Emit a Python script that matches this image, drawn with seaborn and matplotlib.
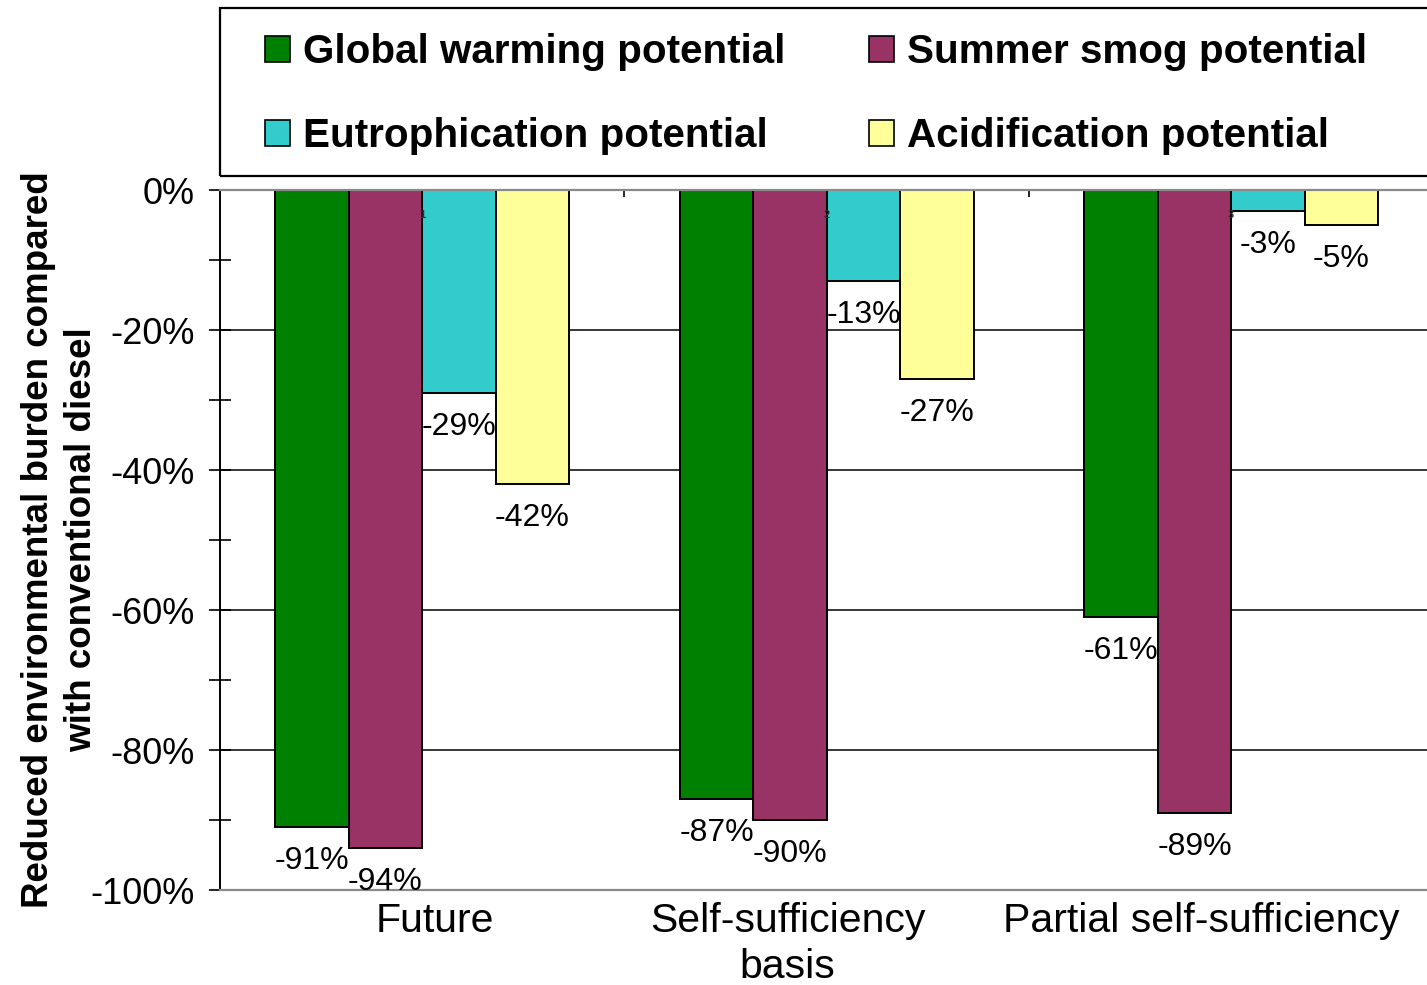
import matplotlib
matplotlib.use("Agg")
import matplotlib.pyplot as plt
import matplotlib.transforms as mtransforms
from matplotlib.patches import Rectangle, Patch
from matplotlib.ticker import FixedLocator, FuncFormatter
import numpy as np
import pandas as pd
import seaborn as sns

# ---- data -------------------------------------------------------------
scenarios = ["Future", "Self-sufficiency\nbasis", "Partial self-sufficiency"]
scenario_ids = ["1", "2", "3"]
impacts = ["Global warming potential", "Summer smog potential",
           "Eutrophication potential", "Acidification potential"]
global_warming = [-91, -87, -61]
summer_smog = [-94, -90, -89]
eutrophication = [-29, -13, -3]
acidification = [-42, -27, -5]
colors = ["#008000", "#993366", "#33CCCC", "#FFFF99"]

series = [global_warming, summer_smog, eutrophication, acidification]
df = pd.DataFrame({
    "scenario": np.repeat([scenarios], len(impacts), axis=0).ravel(),
    "impact": np.repeat(impacts, len(scenarios)),
    "value": np.concatenate(series),
})

# ---- style ------------------------------------------------------------
sns.set_style("white")
plt.rcParams["font.family"] = ["Liberation Sans", "DejaVu Sans"]
plt.rcParams["text.color"] = "black"

W, H, DPI = 1427, 985, 100
fig = plt.figure(figsize=(W / DPI, H / DPI), dpi=DPI)

def px_box(x0, y0, x1, y1):
    """figure-fraction box from top-left pixel coordinates"""
    return [x0 / W, 1 - y1 / H, (x1 - x0) / W, (y1 - y0) / H]

ax = fig.add_axes(px_box(220, 190, 1433.5, 890))

sns.barplot(data=df, x="scenario", y="value", hue="impact",
            hue_order=impacts, order=scenarios, palette=colors,
            width=0.727, edgecolor="black", linewidth=1.4,
            saturation=1, legend=False, ax=ax, zorder=2)

ax.set_xlim(-0.5, 2.5)
ax.set_ylim(-100, 0)

# y axis: major every 20 %, minor every 10 %
ax.yaxis.set_major_locator(FixedLocator(np.arange(-100, 1, 20)))
ax.yaxis.set_minor_locator(FixedLocator(np.arange(-90, 0, 20)))
ax.yaxis.set_major_formatter(FuncFormatter(lambda v, p: f"{int(round(v))}%"))
ax.tick_params(axis="y", which="both", direction="inout", length=16,
               width=1.2, color="black", left=True, labelsize=26,
               labelcolor="black", pad=10)

# horizontal grid lines
ax.set_axisbelow(True)
ax.yaxis.grid(True, color="black", linewidth=1.1)
gl = ax.get_ygridlines()
gl[0].set_visible(False)
gl[-1].set_visible(False)

for side in ["top", "bottom"]:
    ax.spines[side].set_color("#8a8a8a")
    ax.spines[side].set_linewidth(1.6)
ax.spines["left"].set_color("black")
ax.spines["left"].set_linewidth(1.4)
ax.spines["right"].set_visible(False)

# x axis: category labels below, small separators on the zero line
ax.set_xticks(range(len(scenarios)), scenarios)
ax.xaxis.set_minor_locator(FixedLocator([0.5, 1.5]))
ax.tick_params(axis="x", which="major", length=0, labelsize=29.5,
               labelcolor="black", pad=9)
ax.tick_params(axis="x", which="minor", top=True, bottom=False,
               direction="in", length=5, width=1.2, color="black")
shifts_px = [13, -39, -30]
for lab, dx in zip(ax.get_xticklabels(), shifts_px):
    lab.set_linespacing(1.25)
    lab.set_transform(lab.get_transform() +
                      mtransforms.ScaledTranslation(dx / DPI, 0, fig.dpi_scale_trans))
ax.set_xlabel("")

# tiny category ids on the zero line
for i, sid in enumerate(scenario_ids):
    ax.text(i, -3.5, sid, ha="center", va="center", fontsize=8,
            fontweight="bold", color="#333333", zorder=5)

# value labels under each bar end
for cont in ax.containers:
    ax.bar_label(cont, fmt="%.0f%%", padding=14, fontsize=23,
                 color="black", zorder=6)

# y label
ax.set_ylabel("Reduced environmental burden compared\nwith conventional diesel",
              fontsize=26.5, fontweight="bold", linespacing=1.3, color="black")
ax.yaxis.set_label_coords(-0.1, 0.5)

# legend with its own frame
frame = Rectangle((220 / W, 1 - 176 / H), 1230 / W, 168 / H,
                  transform=fig.transFigure, fill=False,
                  edgecolor="black", linewidth=1.6)
fig.patches.append(frame)

handles = [Patch(facecolor=c, edgecolor="black", linewidth=1.2) for c in colors]
order = [0, 2, 1, 3]
fig.legend([handles[i] for i in order], [impacts[i] for i in order],
           ncol=2, loc="upper left", bbox_to_anchor=(265 / W, 1 - 33 / H),
           frameon=False, borderpad=0, borderaxespad=0,
           handlelength=0.62, handleheight=0.62, handletextpad=0.33,
           columnspacing=2.05, labelspacing=1.15,
           prop={"size": 29.1, "weight": "bold"})

fig.savefig("out.png", dpi=DPI)
